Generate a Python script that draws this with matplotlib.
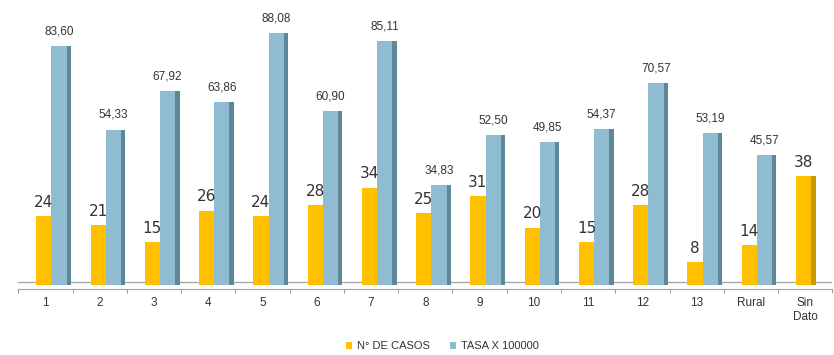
import numpy as np
import matplotlib.pyplot as plt

categorias = ['1', '2', '3', '4', '5', '6', '7', '8', '9', '10', '11', '12', '13', 'Rural', 'Sin\nDato']
casos = [24, 21, 15, 26, 24, 28, 34, 25, 31, 20, 15, 28, 8, 14, 38]
tasa = [83.60, 54.33, 67.92, 63.86, 88.08, 60.90, 85.11, 34.83, 52.50, 49.85, 54.37, 70.57, 53.19, 45.57, np.nan]

amarillo = '#FFC000'
amarillo_lado = '#C99A00'
celeste = '#8FBCD0'
celeste_lado = '#5E8798'
texto = '#333333'

plt.rcParams['font.family'] = ['Liberation Sans', 'DejaVu Sans']

fig = plt.figure(figsize=(8.34, 3.55), dpi=100)
ax = fig.add_axes([0.022, 0.186, 0.976, 0.814])

x = np.arange(len(categorias))
ancho = 0.28
lado = 0.08
pos_a = x - 0.03
pos_c = x + 0.25

# caras laterales (efecto 3D)
ax.bar(pos_a + ancho / 2 + lado / 2, casos, width=lado, color=amarillo_lado, zorder=2)
ax.bar(pos_c + ancho / 2 + lado / 2, tasa, width=lado, color=celeste_lado, zorder=2)
# caras frontales
ax.bar(pos_a, casos, width=ancho, color=amarillo, zorder=3, label='N° DE CASOS')
ax.bar(pos_c, tasa, width=ancho, color=celeste, zorder=3, label='TASA X 100000')

for xi, v in zip(pos_a, casos):
    ax.text(xi, v + 2.2, str(v), ha='center', va='bottom', fontsize=11,
            color=texto, family='DejaVu Sans')
for xi, v in zip(pos_c, tasa):
    if np.isnan(v):
        continue
    ax.text(xi, v + 3.0, f'{v:.2f}'.replace('.', ','), ha='center', va='bottom',
            fontsize=8.5, color=texto)

# piso
ax.axhline(1.2, color='#A8A8A8', lw=1.0, zorder=1)

ax.set_xlim(-0.5, len(categorias) - 0.5)
ax.set_ylim(-1.4, 99.6)
ax.set_xticks(x)
ax.set_xticklabels(categorias, fontsize=8.5, color=texto)
ax.set_xticks(np.arange(-0.5, len(categorias), 1.0), minor=True)
ax.tick_params(axis='x', which='major', length=0, pad=6)
ax.tick_params(axis='x', which='minor', length=3, color='#888888')
ax.set_yticks([])
for s in ['top', 'right', 'left']:
    ax.spines[s].set_visible(False)
ax.spines['bottom'].set_color('#A0A0A0')

h, l = ax.get_legend_handles_labels()
fig.legend(h, l, loc='lower center', bbox_to_anchor=(0.53, -0.018), ncol=2, frameon=False,
           fontsize=8, handlelength=0.6, handleheight=0.6, columnspacing=1.8,
           handletextpad=0.4, labelcolor=texto)

fig.savefig('out.png', dpi=100)
